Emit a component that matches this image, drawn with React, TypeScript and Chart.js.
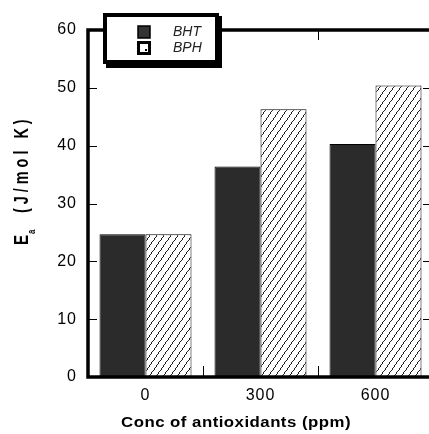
import React, { useEffect, useRef } from "react";
import { Chart, registerables } from "chart.js";

Chart.register(...registerables);

const categories = ["0", "300", "600"];
const bhtValues = [24.7, 36.4, 40.3];
const bphValues = [24.7, 46.3, 50.4];
const seriesLabels = ["BHT", "BPH"];
const yMin = 0;
const yMax = 60;
const yStep = 10;
const xTitle = "Conc of antioxidants (ppm)";
const yTitleMain = "E";
const yTitleSub = "a";
const yTitleUnit = "(J/mol K)";

const FONT = '"Liberation Sans", Arial, Helvetica, sans-serif';

function makeHatch(): CanvasPattern | string {
  const w = 7;
  const h = 10;
  const c = document.createElement("canvas");
  c.width = w;
  c.height = h;
  const g = c.getContext("2d");
  if (!g) return "#fff";
  g.fillStyle = "#fff";
  g.fillRect(0, 0, w, h);
  g.fillStyle = "#1e1e1e";
  for (let yy = 0; yy < h; yy++) {
    const xx = Math.floor(((h - 1 - yy) * w) / h);
    g.fillRect(xx, yy, 1, 1);
  }
  return g.createPattern(c, "repeat") || "#fff";
}

const spacingPlugin = {
  id: "spacing",
  beforeDraw(chart: any) {
    (chart.ctx as any).letterSpacing = "1px";
  },
};

const framePlugin = {
  id: "frame",
  afterDatasetsDraw(chart: any) {
    const { ctx, chartArea: a, scales } = chart;
    const x = scales.x;
    const y = scales.y;
    ctx.save();
    (ctx as any).letterSpacing = "0px";
    ctx.strokeStyle = "#000";
    ctx.lineWidth = 1;
    y.ticks.forEach((t: any) => {
      const py = Math.round(y.getPixelForValue(t.value)) + 0.5;
      ctx.beginPath();
      ctx.moveTo(a.left, py);
      ctx.lineTo(a.left + 9, py);
      ctx.moveTo(a.right - 10, py);
      ctx.lineTo(a.right, py);
      ctx.stroke();
    });
    for (let i = 0; i < categories.length - 1; i++) {
      const px = Math.round((x.getPixelForValue(i) + x.getPixelForValue(i + 1)) / 2) + 0.5;
      ctx.beginPath();
      ctx.moveTo(px, a.bottom);
      ctx.lineTo(px, a.bottom - 11);
      ctx.moveTo(px, a.top);
      ctx.lineTo(px, a.top + 10);
      ctx.stroke();
    }
    ctx.lineWidth = 3.5;
    ctx.strokeRect(a.left, a.top, a.right - a.left, a.bottom - a.top);
    ctx.restore();
  },
  afterDraw(chart: any) {
    const { ctx } = chart;
    ctx.save();
    (ctx as any).letterSpacing = "0px";
    // legend box with shadow
    ctx.fillStyle = "#000";
    ctx.fillRect(106, 16, 116, 52);
    ctx.fillRect(103, 13, 116, 51);
    ctx.fillStyle = "#fff";
    ctx.fillRect(107, 17, 108, 43);
    // markers
    ctx.fillStyle = "#333";
    ctx.fillRect(138, 26, 12, 12);
    ctx.strokeStyle = "#000";
    ctx.lineWidth = 1.5;
    ctx.strokeRect(138, 26, 12, 12);
    ctx.lineWidth = 3;
    ctx.fillStyle = "#fff";
    ctx.fillRect(138.5, 42.5, 11, 11);
    ctx.strokeRect(138.5, 42.5, 11, 11);
    ctx.fillStyle = "#000";
    ctx.fillRect(145, 49, 2, 2);
    // legend text
    ctx.fillStyle = "#222";
    ctx.font = `italic 14px ${FONT}`;
    ctx.textAlign = "left";
    ctx.textBaseline = "middle";
    const labels = chart.data.datasets.map((d: any) => d.label);
    ctx.fillText(labels[0], 173, 32);
    ctx.fillText(labels[1], 173, 48);

    // x title
    ctx.save();
    ctx.fillStyle = "#000";
    ctx.font = `bold 14px ${FONT}`;
    ctx.textAlign = "center";
    ctx.textBaseline = "alphabetic";
    ctx.translate(236, 427);
    ctx.scale(1.2, 1);
    (ctx as any).letterSpacing = "0.4px";
    ctx.fillText(xTitle, 0, 0);
    ctx.restore();

    // y title
    ctx.save();
    ctx.fillStyle = "#000";
    ctx.translate(28, 245);
    ctx.rotate(-Math.PI / 2);
    const sx = 0.72;
    ctx.scale(sx, 1);
    ctx.textAlign = "left";
    ctx.textBaseline = "alphabetic";
    ctx.font = `bold 21px ${FONT}`;
    ctx.fillText(yTitleMain, 0, 0);
    ctx.font = `bold 11px ${FONT}`;
    ctx.fillText(yTitleSub, 11 / sx, 7);
    ctx.font = `bold 20px ${FONT}`;
    (ctx as any).letterSpacing = `${(4.0 / sx).toFixed(2)}px`;
    ctx.fillText(yTitleUnit, 32 / sx, 0);
    ctx.restore();

    ctx.restore();
  },
};

export default function App() {
  const ref = useRef<HTMLCanvasElement | null>(null);
  useEffect(() => {
    if (!ref.current) return;
    const hatch = makeHatch();
    const chart = new Chart(ref.current, {
      type: "bar",
      data: {
        labels: categories,
        datasets: [
          {
            label: seriesLabels[0],
            data: bhtValues,
            backgroundColor: "#2b2b2b",
            borderColor: "#000",
            borderWidth: 1,
            categoryPercentage: 0.8,
            barPercentage: 1,
          },
          {
            label: seriesLabels[1],
            data: bphValues,
            backgroundColor: hatch as any,
            borderColor: "#000",
            borderWidth: 1,
            categoryPercentage: 0.8,
            barPercentage: 1,
          },
        ],
      },
      options: {
        responsive: false,
        animation: false,
        devicePixelRatio: 1,
        layout: { padding: { top: 30, right: 12, left: 0, bottom: 0 } },
        plugins: { legend: { display: false }, tooltip: { enabled: false } },
        scales: {
          x: {
            grid: { display: false, drawTicks: false },
            border: { display: false },
            ticks: { color: "#000", font: { family: FONT, size: 16 }, padding: 9 },
            afterFit: (s: any) => {
              s.height = 57;
            },
          },
          y: {
            min: yMin,
            max: yMax,
            grid: { display: false, drawTicks: false },
            border: { display: false },
            ticks: { stepSize: yStep, color: "#000", font: { family: FONT, size: 16 }, padding: 11 },
            afterFit: (s: any) => {
              s.width = 88;
            },
          },
        },
      },
      plugins: [spacingPlugin, framePlugin],
    });
    return () => chart.destroy();
  }, []);
  return (
    <div
      style={{
        position: "fixed",
        left: 0,
        top: 0,
        width: 429,
        height: 434,
        overflow: "hidden",
        background: "#fff",
      }}
    >
      <canvas ref={ref} width={445} height={434} style={{ display: "block" }} />
    </div>
  );
}
